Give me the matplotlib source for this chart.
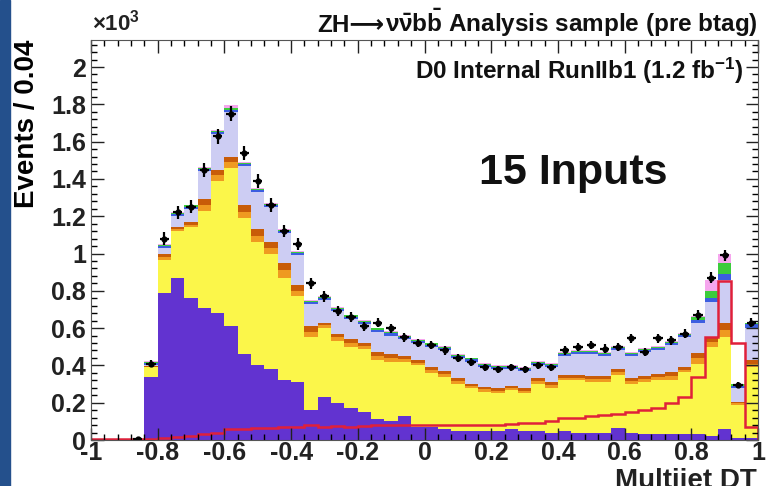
import numpy as np
import matplotlib
matplotlib.use("Agg")
import matplotlib.pyplot as plt
from matplotlib.patches import Rectangle
from matplotlib.ticker import MultipleLocator, FuncFormatter

plt.rcParams['font.family'] = ['Liberation Sans', 'DejaVu Sans']
plt.rcParams['font.weight'] = 'bold'
plt.rcParams['mathtext.fontset'] = 'custom'
plt.rcParams['mathtext.rm'] = 'Liberation Sans:bold'
plt.rcParams['mathtext.it'] = 'Liberation Sans:bold'
plt.rcParams['mathtext.bf'] = 'Liberation Sans:bold'
plt.rcParams['mathtext.sf'] = 'Liberation Sans:bold'

# 50 bins of 0.04 from -1 to 1, values in units of 10^3 events
edges = np.linspace(-1, 1, 51)
z4 = [0.0, 0.0, 0.0, 0.0]

# stacked tops (cumulative)
purple = z4 + [0.34, 0.79, 0.87, 0.76, 0.71, 0.68, 0.61, 0.46, 0.40, 0.38,
               0.32, 0.31, 0.16, 0.23, 0.20, 0.17, 0.15, 0.11, 0.10, 0.13,
               0.07, 0.07, 0.06, 0.05, 0.05, 0.05, 0.05, 0.06, 0.05, 0.05,
               0.04, 0.05, 0.04, 0.04, 0.04, 0.065, 0.04, 0.03, 0.03, 0.03,
               0.03, 0.03, 0.02, 0.06, 0.01, 0.01]
yellow_top = z4 + [0.39, 0.965, 1.12, 1.14, 1.23, 1.39, 1.46, 1.19, 1.06, 1.00,
                   0.87, 0.77, 0.55, 0.60, 0.53, 0.50, 0.49, 0.43, 0.42, 0.42,
                   0.40, 0.36, 0.34, 0.30, 0.28, 0.26, 0.25, 0.27, 0.25, 0.30,
                   0.28, 0.32, 0.32, 0.31, 0.31, 0.35, 0.30, 0.31, 0.32, 0.32,
                   0.365, 0.41, 0.50, 0.55, 0.19, 0.39]
orange_top = z4 + [0.395, 1.0, 1.14, 1.17, 1.29, 1.45, 1.52, 1.26, 1.13, 1.06,
                   0.95, 0.83, 0.61, 0.63, 0.57, 0.54, 0.52, 0.47, 0.46, 0.45,
                   0.43, 0.39, 0.37, 0.33, 0.30, 0.285, 0.28, 0.29, 0.28, 0.33,
                   0.31, 0.35, 0.35, 0.345, 0.345, 0.38, 0.33, 0.345, 0.355, 0.365,
                   0.39, 0.465, 0.55, 0.63, 0.205, 0.43]
lav_top = z4 + [0.40, 1.03, 1.20, 1.24, 1.44, 1.64, 1.76, 1.47, 1.33, 1.25,
                1.11, 0.99, 0.73, 0.75, 0.69, 0.65, 0.62, 0.58, 0.56, 0.54,
                0.52, 0.50, 0.48, 0.44, 0.42, 0.39, 0.38, 0.38, 0.37, 0.40,
                0.39, 0.45, 0.46, 0.46, 0.45, 0.48, 0.45, 0.47, 0.48, 0.51,
                0.55, 0.63, 0.74, 0.86, 0.28, 0.60]
# thin bands on top
blue = z4 + [0.012] * 42 + [0.02, 0.03, 0.012, 0.02]
green = z4 + [0.006] * 41 + [0.015, 0.04, 0.06, 0.006, 0.006]
pink = z4 + [0.004] * 6 + [0.02] + [0.004] * 34 + [0.01, 0.06, 0.05, 0.004, 0.004]

signal = [0.005, 0.005, 0.005, 0.005,
          0.005, 0.01, 0.015, 0.02, 0.03, 0.04, 0.06, 0.06, 0.065, 0.065,
          0.07, 0.07, 0.08, 0.07, 0.075, 0.07, 0.075, 0.08, 0.08, 0.08,
          0.08, 0.08, 0.08, 0.08, 0.08, 0.08, 0.08, 0.085, 0.09, 0.09,
          0.10, 0.12, 0.12, 0.13, 0.135, 0.14, 0.15, 0.16, 0.17, 0.20,
          0.23, 0.34, 0.55, 0.85, 0.52, 0.07]

data = [0.0, 0.0, 0.0, 0.005,
        0.41, 1.08, 1.22, 1.25, 1.45, 1.63, 1.75, 1.54, 1.39, 1.26,
        1.12, 1.05, 0.84, 0.77, 0.69, 0.66, 0.61, 0.63, 0.60, 0.55,
        0.52, 0.51, 0.48, 0.44, 0.42, 0.39, 0.38, 0.39, 0.38, 0.40,
        0.39, 0.48, 0.50, 0.51, 0.49, 0.50, 0.545, 0.47, 0.545, 0.535,
        0.57, 0.67, 0.87, 0.99, 0.295, 0.63]

fig = plt.figure(figsize=(7.66, 4.86), dpi=100)
fig.patches.append(Rectangle((0, 0), 10 / 766, 1, transform=fig.transFigure,
                             color='#24508c', zorder=0))
ax = fig.add_axes([91 / 766, 1 - 440 / 486, 667 / 766, 400 / 486])

purple = np.array(purple)
yellow_top = np.array(yellow_top)
orange_top = np.array(orange_top)
orange_mid = yellow_top + 0.5 * (orange_top - yellow_top)
lav_top = np.array(lav_top)
blue_top = lav_top + np.array(blue)
green_top = blue_top + np.array(green)
pink_top = green_top + np.array(pink)

layers = [
    (purple, 0, '#6233d0'),
    (yellow_top, purple, '#fbf64a'),
    (orange_mid, yellow_top, '#ef9a20'),
    (orange_top, orange_mid, '#c85c08'),
    (lav_top, orange_top, '#cdcdf3'),
    (blue_top, lav_top, '#3c5ee0'),
    (green_top, blue_top, '#3ccc3c'),
    (pink_top, green_top, '#f6a6ee'),
]
for top, base, col in layers:
    ax.stairs(top, edges, baseline=base, fill=True, color=col, lw=0)

ax.stairs(signal, edges, color='#e0203a', lw=1.8)

data = np.array(data)
centers = 0.5 * (edges[:-1] + edges[1:])
m = data > 0
ax.errorbar(centers[m], data[m], xerr=0.014, yerr=np.sqrt(data[m] * 1000) / 1000,
            fmt='o', ms=3.5, color='black', elinewidth=1.6, capsize=0)

ax.set_xlim(-1, 1)
ax.set_ylim(0, 2.145)
ax.xaxis.set_major_locator(MultipleLocator(0.2))
ax.xaxis.set_minor_locator(MultipleLocator(0.04))
ax.yaxis.set_major_locator(MultipleLocator(0.2))
ax.yaxis.set_minor_locator(MultipleLocator(0.04))
fmt = FuncFormatter(lambda v, p: '%g' % round(v, 2))
ax.xaxis.set_major_formatter(fmt)
ax.yaxis.set_major_formatter(fmt)
ax.tick_params(which='both', direction='in', top=True, right=True, width=1)
ax.tick_params(which='major', length=9, labelsize=18, colors='#222222')
ax.tick_params(which='minor', length=4.5)
ax.tick_params(axis='x', pad=1)
for lab in ax.get_xticklabels() + ax.get_yticklabels():
    lab.set_fontweight('bold')
for s in ax.spines.values():
    s.set_color('#555555')

ax.set_ylabel('Events / 0.04', fontsize=20, fontweight='bold', loc='top', labelpad=8)
fig.text(757 / 766, -2 / 486, 'Multijet DT', fontsize=20, fontweight='bold',
         ha='right', va='baseline', color='#222222')

fig.text(92 / 766, 1 - 31 / 486, r'×10$^{3}$', fontsize=16, color='#222222')
title = fig.text(758 / 766, 1 - 32 / 486,
                 r'$\nu\bar{\nu}b\bar{b}$ Analysis sample (pre btag)',
                 fontsize=17.5, ha='right', color='#111111')
fig.canvas.draw()
bb = title.get_window_extent()
fig.text((bb.x0 - 1) / fig.bbox.width, 1 - 32 / 486, 'ZH⟶', fontsize=17.5,
         ha='right', color='#111111', family=['Liberation Sans', 'DejaVu Sans'])
fig.text(743 / 766, 1 - 79 / 486, r'D0 Internal RunIIb1 (1.2 fb$^{-1}$)',
         fontsize=17.5, ha='right', color='#111111')
ax.text(0.445, 1.43, '15 Inputs', fontsize=31, fontweight='bold', ha='center',
        va='center', color='#111111')

fig.savefig('out.png', dpi=100)
